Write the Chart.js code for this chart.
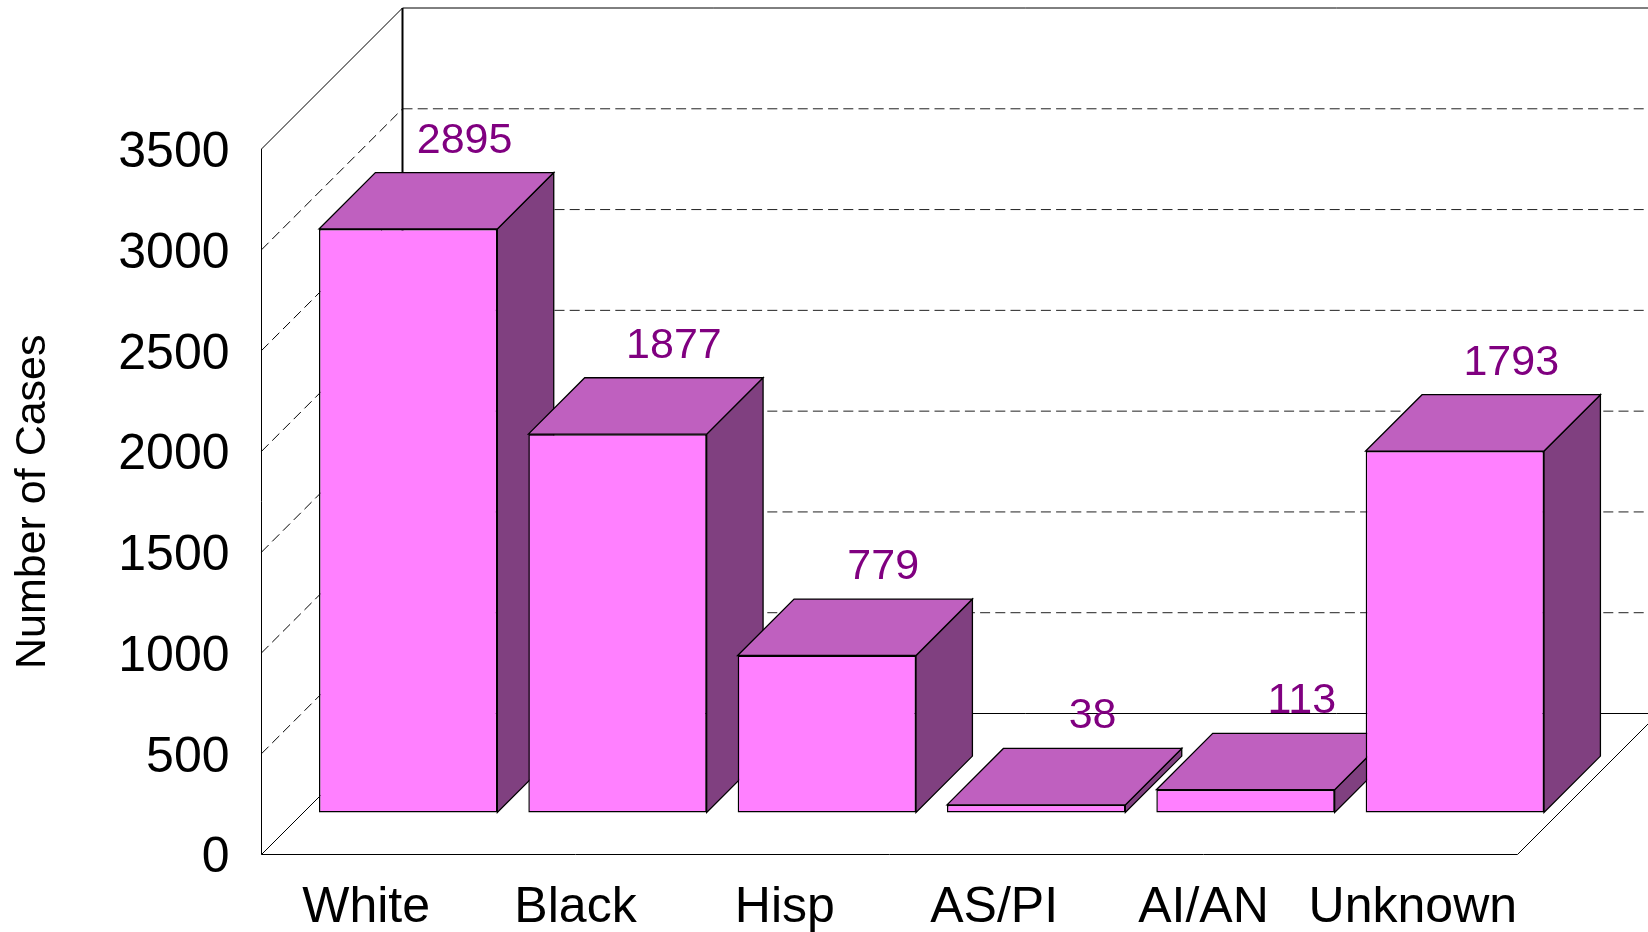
<!DOCTYPE html>
<html lang="en">
<head>
  <meta charset="UTF-8" />
  <title>Number of Cases</title>
  <script src="https://cdn.jsdelivr.net/npm/chart.js"></script>
  <style>
    html, body { margin: 0; padding: 0; background: #fff; }
    canvas { display: block; }
  </style>
</head>
<body>
  <canvas id="casesChart" width="1648" height="932"></canvas>

  <script>
    const categories = ["White", "Black", "Hisp", "AS/PI", "AI/AN", "Unknown"];
    const cases = [2895, 1877, 779, 38, 113, 1793];
    const yTicks = [0, 500, 1000, 1500, 2000, 2500, 3000, 3500];

    // fake 3D geometry, in pixels
    const wallDepth = 141;
    const barShift = 42;
    const barDepth = 56.4;

    const font = "Arial, 'Liberation Sans', sans-serif";

    function poly(ctx, pts, fill) {
      ctx.beginPath();
      pts.forEach((p, i) => i ? ctx.lineTo(p[0], p[1]) : ctx.moveTo(p[0], p[1]));
      ctx.closePath();
      ctx.fillStyle = fill;
      ctx.fill();
      ctx.strokeStyle = "#000";
      ctx.lineWidth = 1.3;
      ctx.stroke();
    }

    function line(ctx, x1, y1, x2, y2) {
      ctx.beginPath();
      ctx.moveTo(x1, y1);
      ctx.lineTo(x2, y2);
      ctx.stroke();
    }

    const box3d = {
      id: "box3d",
      beforeDatasetsDraw(chart) {
        const ctx = chart.ctx;
        const a = chart.chartArea;
        const y = chart.scales.y;
        const d = wallDepth;

        ctx.save();
        // dashed grid on side wall and back wall
        yTicks.slice(1, -1).forEach(v => {
          const py = y.getPixelForValue(v);
          ctx.lineWidth = 1;
          ctx.strokeStyle = "#000";
          ctx.setLineDash([10, 5.2]);
          line(ctx, a.left, py, a.left + d, py - d);
          ctx.strokeStyle = "#202020";
          line(ctx, a.left + d, py - d, chart.width, py - d);
        });

        // solid frame
        ctx.setLineDash([]);
        ctx.strokeStyle = "#000";
        ctx.lineWidth = 1;
        line(ctx, a.left, a.top, a.left, a.bottom);
        line(ctx, a.left, a.top, a.left + d, a.top - d);
        line(ctx, a.left + d, a.top - d, chart.width, a.top - d);
        line(ctx, a.left, a.bottom, a.right, a.bottom);
        line(ctx, a.left, a.bottom, a.left + d, a.bottom - d);
        line(ctx, a.right, a.bottom, a.right + d, a.bottom - d);
        line(ctx, a.left + d, a.bottom - d, chart.width, a.bottom - d);
        ctx.lineWidth = 2;
        line(ctx, a.left + d, a.top - d, a.left + d, a.bottom - d);
        ctx.restore();
      },
      beforeDatasetDraw(chart, args) {
        const ctx = chart.ctx;
        ctx.save();
        // sides and tops first, left to right, so the next bar covers them
        args.meta.data.forEach(bar => {
          const l = bar.x - bar.width / 2 + barShift;
          const r = bar.x + bar.width / 2 + barShift;
          const t = bar.y - barShift;
          const b = bar.base - barShift;
          const dp = barDepth;
          poly(ctx, [[r, t], [r + dp, t - dp], [r + dp, b - dp], [r, b]], "#804080");
          poly(ctx, [[l, t], [l + dp, t - dp], [r + dp, t - dp], [r, t]], "#BF60BF");
        });
        // library draws the front faces, pushed back from the front plane
        ctx.translate(barShift, -barShift);
      },
      afterDatasetDraw(chart) {
        chart.ctx.restore();
      },
      afterDatasetsDraw(chart) {
        const ctx = chart.ctx;
        ctx.save();
        ctx.fillStyle = "#800080";
        ctx.font = "43px " + font;
        ctx.textAlign = "center";
        ctx.textBaseline = "alphabetic";
        chart.getDatasetMeta(0).data.forEach((bar, i) => {
          ctx.fillText(String(cases[i]), bar.x + barShift + barDepth, bar.y - barShift - barDepth - 20);
        });
        ctx.restore();
      }
    };

    new Chart(document.getElementById("casesChart"), {
      type: "bar",
      data: {
        labels: categories,
        datasets: [{
          data: cases,
          backgroundColor: "#FF80FF",
          borderColor: "#000",
          borderWidth: 1.5,
          borderSkipped: false,
          barPercentage: 0.852,
          categoryPercentage: 1,
          clip: false
        }]
      },
      options: {
        responsive: false,
        animation: false,
        layout: { padding: { top: 149, right: 130.5, left: 0, bottom: 0 } },
        plugins: { legend: { display: false }, tooltip: { enabled: false } },
        scales: {
          x: {
            grid: { display: false },
            border: { display: false },
            afterFit: s => { s.height = 77.5; },
            ticks: {
              color: "#000",
              font: { family: font, size: 50 },
              padding: 16,
              maxRotation: 0,
              autoSkip: false
            }
          },
          y: {
            min: 0,
            max: 3500,
            grid: { display: false, drawTicks: false },
            border: { display: false },
            afterFit: s => { s.width = 261.5; },
            afterBuildTicks: s => { s.ticks = yTicks.map(v => ({ value: v })); },
            ticks: {
              color: "#000",
              // blank first line + small line height nudges the digits down a bit
              font: { family: font, size: 50, lineHeight: 0.168 },
              padding: 32,
              callback: v => ["", String(v)]
            },
            title: {
              display: true,
              text: "Number of Cases",
              color: "#000",
              font: { family: font, size: 43 },
              padding: { top: 7, bottom: 0 }
            }
          }
        }
      },
      plugins: [box3d]
    });
  </script>
</body>
</html>
